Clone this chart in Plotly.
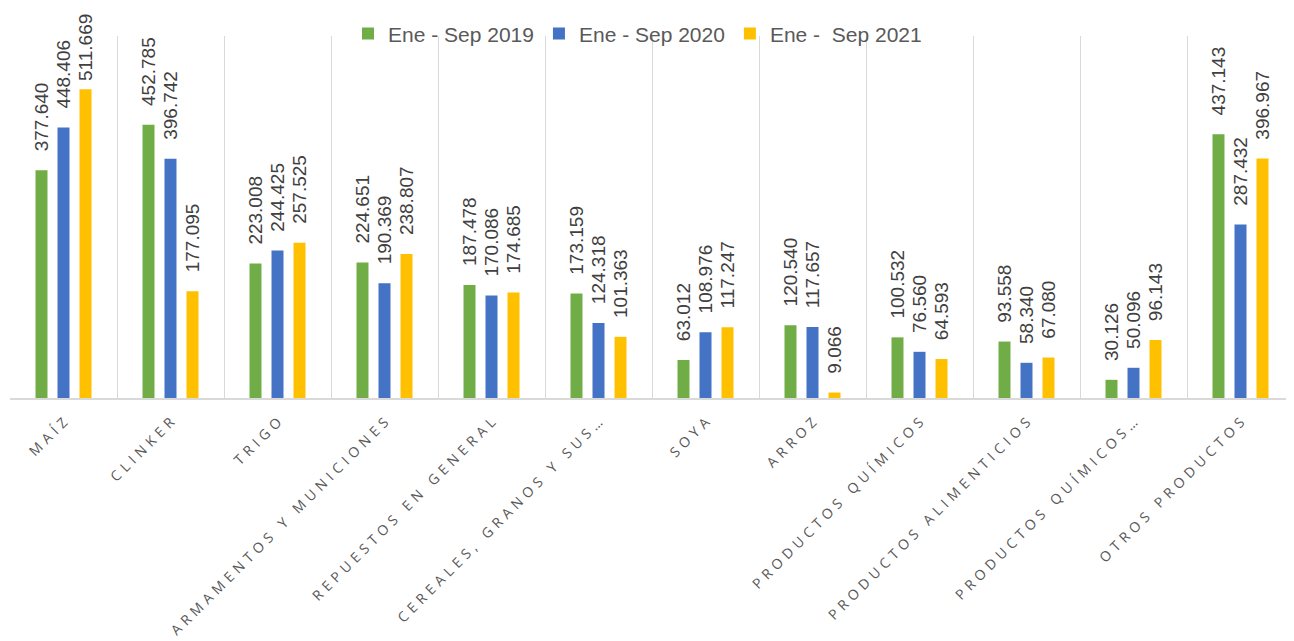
import plotly.graph_objects as go

categories = ["MAÍZ", "CLINKER", "TRIGO", "ARMAMENTOS Y MUNICIONES", "REPUESTOS EN GENERAL",
              "CEREALES, GRANOS Y SUS…", "SOYA", "ARROZ", "PRODUCTOS QUÍMICOS",
              "PRODUCTOS ALIMENTICIOS", "PRODUCTOS QUÍMICOS…", "OTROS PRODUCTOS"]
series_names = ["Ene - Sep 2019", "Ene - Sep 2020", "Ene -\u00a0 Sep 2021"]
v2019 = [377640, 452785, 223008, 224651, 187478, 173159, 63012, 120540, 100532, 93558, 30126, 437143]
v2020 = [448406, 396742, 244425, 190369, 170086, 124318, 108976, 117657, 76560, 58340, 50096, 287432]
v2021 = [511669, 177095, 257525, 238807, 174685, 101363, 117247, 9066, 64593, 67080, 96143, 396967]
colors = ["#70AD47", "#4472C4", "#FFC000"]
Y_MAX = 600000

SP = "\u2004"
def spaced(s):
    return SP.join(list(s))

def fmt(v):
    # labels near the top of the chart sit closer to their bar so they stay inside the chart
    pad = 1 if v > 0.8 * Y_MAX else 3
    return "\u00a0" * pad + f"{v:,.0f}".replace(",", ".")

fig = go.Figure()
for name, vals, col in zip(series_names, [v2019, v2020, v2021], colors):
    fig.add_trace(go.Bar(
        x=categories, y=vals, name=name, marker=dict(color=col, line=dict(width=0)),
        text=[fmt(v) for v in vals], textposition="outside", textangle=-90,
        constraintext="none", cliponaxis=False,
        textfont=dict(family="Liberation Sans, Arial", size=19, color="#404040"),
    ))

# page body adds an 8px margin, so the figure is sized to the remaining window
fig.update_layout(
    width=1286, height=633,
    margin=dict(l=2, r=0, t=28, b=243, autoexpand=False),
    paper_bgcolor="white", plot_bgcolor="white",
    barmode="group", bargap=0.383, bargroupgap=0.455,
    showlegend=True,
    legend=dict(orientation="h", x=0.4887, xanchor="center", y=1.006, yanchor="middle",
                font=dict(family="Liberation Sans, Arial", size=21, color="#595959"),
                bgcolor="rgba(0,0,0,0)", itemwidth=30, traceorder="normal"),
)
fig.update_xaxes(
    tickmode="array", tickvals=categories, ticktext=[spaced(c) for c in categories],
    tickangle=-45, tickson="boundaries", ticks="", showgrid=True, gridcolor="#D9D9D9", gridwidth=1,
    showline=True, linecolor="#D9D9D9", linewidth=1.5, automargin=False,
    tickfont=dict(family="Open Sans", size=14, color="#595959"),
    ticklabelstandoff=9,
)
fig.update_yaxes(range=[0, Y_MAX], showgrid=False, showticklabels=False, zeroline=False,
                 showline=False, automargin=False)

fig.write_html("out.html")
